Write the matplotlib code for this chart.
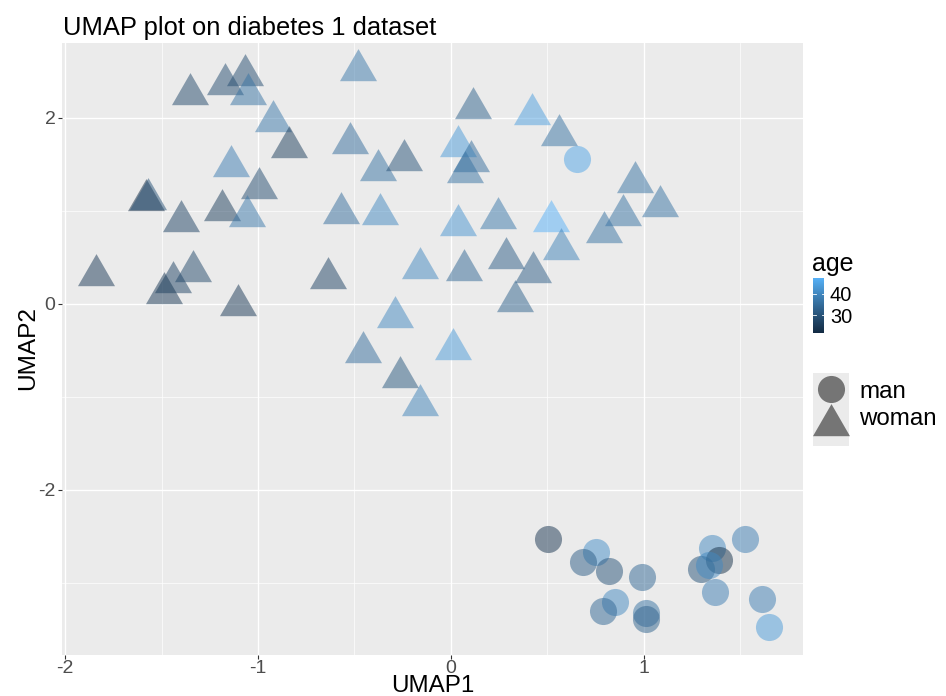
import numpy as np
import matplotlib
matplotlib.use("Agg")
import matplotlib.pyplot as plt
from matplotlib.patches import Rectangle

plt.rcParams['font.family'] = ['Liberation Sans', 'DejaVu Sans']
plt.rcParams['axes.unicode_minus'] = False

# ---------------- data ----------------
woman_umap1 = [-1.354, -1.173, -1.065, -1.050, -0.920, -0.839, -1.142, -0.995,
               -1.583, -1.569, -1.401, -1.185, -1.059, -1.842, -1.441, -1.337,
               -1.488, -1.105, -0.523, -0.379, -0.242, -0.572, -0.368, -0.635,
               -0.159, -0.292, -0.484, 0.038, 0.069, 0.116, 0.038, 0.104,
               0.073, 0.419, 0.559, 0.957, 1.083, 0.891, 0.796, 0.519,
               0.571, 0.244, 0.284, 0.424, 0.334, 0.012, -0.455, -0.265, -0.161]
woman_umap2 = [2.258, 2.360, 2.457, 2.260, 1.970, 1.688, 1.484, 1.249,
               1.113, 1.132, 0.887, 1.011, 0.948, 0.310, 0.234, 0.357,
               0.120, -0.013, 1.729, 1.439, 1.543, 0.981, 0.962, 0.277,
               0.389, -0.138, 2.511, 0.847, 0.363, 2.110, 1.697, 1.535,
               1.422, 2.041, 1.815, 1.310, 1.052, 0.952, 0.776, 0.890,
               0.589, 0.927, 0.497, 0.342, 0.034, -0.482, -0.518, -0.787, -1.088]
woman_age = [28, 29, 29, 36, 37, 26, 38, 29,
             22, 30, 27, 26, 37, 25, 27, 28,
             25, 25, 35, 36, 30, 35, 40, 27,
             40, 40, 37, 42, 34, 33, 43, 35,
             36, 44, 36, 36, 36, 36, 36, 47,
             39, 37, 32, 32, 33, 43, 35, 31, 39]

man_umap1 = [0.503, 0.751, 0.683, 0.818, 0.993, 0.850, 0.789, 1.014, 1.014,
             1.356, 1.526, 1.392, 1.296, 1.337, 1.372, 1.615, 1.649, 0.654]
man_umap2 = [-2.524, -2.663, -2.771, -2.874, -2.935, -3.201, -3.298, -3.326, -3.384,
             -2.627, -2.530, -2.756, -2.853, -2.810, -3.097, -3.175, -3.470, 1.556]
man_age = [24, 41, 32, 30, 34, 40, 34, 36, 33,
           40, 38, 23, 30, 40, 38, 38, 43, 45]

sex_levels = ["man", "woman"]
age_ticks = [30, 40]
x_ticks = [-2, -1, 0, 1]
y_ticks = [-2, 0, 2]

# ---------------- ggplot-like colour scale (Lab interpolation) ----------------
def hex2rgb(h):
    return np.array([int(h[i:i + 2], 16) for i in (1, 3, 5)]) / 255.0

M = np.array([[0.4124564, 0.3575761, 0.1804375],
              [0.2126729, 0.7151522, 0.0721750],
              [0.0193339, 0.1191920, 0.9503041]])
WHITE = np.array([0.95047, 1.0, 1.08883])

def rgb2lab(rgb):
    lin = np.where(rgb <= 0.04045, rgb / 12.92, ((rgb + 0.055) / 1.055) ** 2.4)
    t = (M @ lin) / WHITE
    f = np.where(t > 0.008856, np.cbrt(t), 7.787 * t + 16 / 116)
    return np.array([116 * f[1] - 16, 500 * (f[0] - f[1]), 200 * (f[1] - f[2])])

def lab2rgb(lab):
    L, a, b = lab
    fy = (L + 16) / 116
    fx = fy + a / 500
    fz = fy - b / 200
    f = np.array([fx, fy, fz])
    t = np.where(f ** 3 > 0.008856, f ** 3, (f - 16 / 116) / 7.787)
    xyz = t * WHITE
    lin = np.linalg.solve(M, xyz)
    lin = np.clip(lin, 0, 1)
    rgb = np.where(lin <= 0.0031308, 12.92 * lin, 1.055 * lin ** (1 / 2.4) - 0.055)
    return np.clip(rgb, 0, 1)

LOW, HIGH = rgb2lab(hex2rgb("#132B43")), rgb2lab(hex2rgb("#56B1F7"))
all_age = np.array(woman_age + man_age, dtype=float)
amin, amax = all_age.min(), all_age.max()

def age_color(a):
    t = (a - amin) / (amax - amin)
    return lab2rgb(LOW + t * (HIGH - LOW))

# ---------------- figure ----------------
W, H = 946, 696
fig = plt.figure(figsize=(W / 100, H / 100), dpi=100)
px = lambda x: x / W
py = lambda y: 1 - y / H

left, right, top, bottom = 62, 802.5, 42.5, 654.5
ax = fig.add_axes([px(left), py(bottom), px(right - left), (bottom - top) / H])
ax.set_facecolor("#EBEBEB")
for s in ax.spines.values():
    s.set_visible(False)

tri = [(0, 1), (-0.8660254, -0.5), (0.8660254, -0.5), (0, 1)]
TRI_MS = 30.8
CIR_MS = 19.5

for x, y, a in zip(woman_umap1, woman_umap2, woman_age):
    ax.plot([x], [y], linestyle='none', marker=tri, markersize=TRI_MS,
            markerfacecolor=age_color(a), markeredgewidth=0, alpha=0.5, zorder=3)
for x, y, a in zip(man_umap1, man_umap2, man_age):
    ax.plot([x], [y], linestyle='none', marker='o', markersize=CIR_MS,
            markerfacecolor=age_color(a), markeredgewidth=0, alpha=0.5, zorder=3)

allx = np.array(woman_umap1 + man_umap1)
ally = np.array(woman_umap2 + man_umap2)
rx = allx.max() - allx.min()
ry = ally.max() - ally.min()
ax.set_xlim(allx.min() - 0.05 * rx, allx.max() + 0.05 * rx)
ax.set_ylim(ally.min() - 0.05 * ry, ally.max() + 0.05 * ry)

ax.set_xticks(x_ticks)
ax.set_yticks(y_ticks)
ax.set_xticks([-1.5, -0.5, 0.5, 1.5], minor=True)
ax.set_yticks([-3, -1, 1], minor=True)
ax.grid(True, which='major', color='white', linewidth=1.0, zorder=0)
ax.grid(True, which='minor', color='white', linewidth=0.5, zorder=0)
ax.set_axisbelow(True)
ax.tick_params(which='major', length=2.75, width=0.8, color='#333333',
               labelsize=14, labelcolor='#4D4D4D', pad=2)
ax.tick_params(axis='x', which='major', pad=1.2)
ax.tick_params(which='minor', length=0)

# titles
fig.text(px(63), py(34.5), "UMAP plot on diabetes 1 dataset", fontsize=18.4,
         ha='left', va='baseline', color='black')
fig.text(px((left + right) / 2), py(691.5), "UMAP1", fontsize=17.4, ha='center',
         va='baseline', color='black')
fig.text(px(28), py((top + bottom) / 2), "UMAP2", fontsize=17.6, ha='center',
         va='center', rotation=90, color='black')

# ---------------- colourbar legend ----------------
fig.text(px(812), py(271.5), "age", fontsize=18, ha='left', va='baseline')
cb_top, cb_bot, cb_l, cb_r = 278.3, 332.7, 813.3, 824.3
cax = fig.add_axes([px(cb_l), py(cb_bot), px(cb_r - cb_l), (cb_bot - cb_top) / H])
grad = np.linspace(amin, amax, 200)
img = np.array([age_color(g) for g in grad])[:, None, :]
cax.imshow(img, origin='lower', aspect='auto', extent=(0, 1, amin, amax))
cax.set_xlim(0, 1)
cax.set_ylim(amin, amax)
for s in cax.spines.values():
    s.set_visible(False)
cax.set_xticks([])
cax.yaxis.tick_right()
cax.set_yticks(age_ticks)
cax.set_yticklabels([str(t) for t in age_ticks])
cax.tick_params(axis='y', length=0, pad=4, labelsize=14.4, labelcolor='black')
for t in age_ticks:
    cax.plot([0, 0.2], [t, t], color='white', linewidth=0.6)
    cax.plot([0.8, 1], [t, t], color='white', linewidth=0.6)

# ---------------- shape legend ----------------
lax = fig.add_axes([0, 0, 1, 1], facecolor='none')
lax.set_xlim(0, W)
lax.set_ylim(H, 0)
lax.axis('off')
lax.add_patch(Rectangle((813, 373), 36, 73, facecolor='#EBEBEB', edgecolor='none'))
lax.plot([831], [389], linestyle='none', marker='o', markersize=CIR_MS,
         markerfacecolor='black', markeredgewidth=0, alpha=0.5)
lax.plot([831], [425], linestyle='none', marker=tri, markersize=TRI_MS,
         markerfacecolor='black', markeredgewidth=0, alpha=0.5)
lax.text(859, 397.5, sex_levels[0], fontsize=17.4, ha='left', va='baseline')
lax.text(859, 425, sex_levels[1], fontsize=17.4, ha='left', va='baseline')

fig.savefig("out.png", dpi=100)
